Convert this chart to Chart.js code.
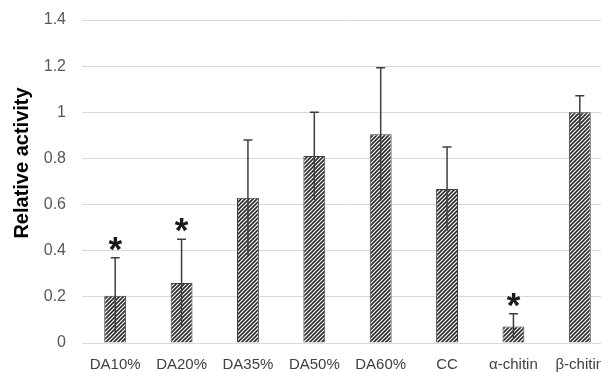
<!DOCTYPE html>
<html>
<head>
<meta charset="utf-8">
<script src="https://cdn.jsdelivr.net/npm/chart.js@4.4.0/dist/chart.umd.min.js"></script>
<style>
    html, body { margin: 0; padding: 0; background: #fff; overflow: hidden; }
    #wrap { width: 620px; height: 372px; }
</style>
</head>
<body>
<div id="wrap"><canvas id="activityChart" width="620" height="372"></canvas></div>
<script>
// chart data
const categories = ['DA10%', 'DA20%', 'DA35%', 'DA50%', 'DA60%', 'CC', 'α-chitin', 'β-chitin'];
const activity = [0.205, 0.26, 0.63, 0.81, 0.905, 0.668, 0.072, 1.0];
const errors = [0.165, 0.19, 0.25, 0.19, 0.288, 0.182, 0.055, 0.072];
const significant = [true, true, false, false, false, false, true, false];
const yTicks = [0, 0.2, 0.4, 0.6, 0.8, 1, 1.2, 1.4];

const axisFont = "'Liberation Sans', Arial, sans-serif";

// diagonal hatch fill like the Excel pattern
function makeHatch() {
    const tile = document.createElement('canvas');
    tile.width = 4;
    tile.height = 4;
    const t = tile.getContext('2d');
    t.fillStyle = '#ffffff';
    t.fillRect(0, 0, 4, 4);
    t.strokeStyle = '#2b2b2b';
    t.lineWidth = 1.6;
    t.beginPath();
    t.moveTo(-1, 5); t.lineTo(5, -1);
    t.moveTo(-1, 1); t.lineTo(1, -1);
    t.moveTo(3, 5); t.lineTo(5, 3);
    t.stroke();
    return document.getElementById('activityChart').getContext('2d').createPattern(tile, 'repeat');
}

// error bars, asterisks and the y title
const extras = {
    id: 'extras',
    afterDatasetsDraw(chart) {
        const ctx = chart.ctx;
        const meta = chart.getDatasetMeta(0);
        const y = chart.scales.y;
        ctx.save();
        meta.data.forEach((bar, i) => {
            const top = y.getPixelForValue(activity[i] + errors[i]);
            const low = y.getPixelForValue(activity[i] - errors[i]);
            ctx.strokeStyle = '#3f3f3f';
            ctx.lineWidth = 1.5;
            ctx.beginPath();
            ctx.moveTo(bar.x, low);
            ctx.lineTo(bar.x, top);
            ctx.moveTo(bar.x - 4.5, top);
            ctx.lineTo(bar.x + 4.5, top);
            ctx.stroke();

            if (significant[i]) {
                ctx.font = 'bold 35px ' + axisFont;
                ctx.fillStyle = '#1a1a1a';
                ctx.textAlign = 'center';
                ctx.textBaseline = 'alphabetic';
                const m = ctx.measureText('*');
                ctx.fillText('*', bar.x, top - 7 - m.actualBoundingBoxDescent);
            }
        });

        ctx.translate(22, 163);
        ctx.rotate(-Math.PI / 2);
        ctx.font = 'bold 20px ' + axisFont;
        ctx.fillStyle = '#000000';
        ctx.textAlign = 'center';
        ctx.textBaseline = 'middle';
        ctx.fillText('Relative activity', 0, 0);
        ctx.restore();
    }
};

new Chart(document.getElementById('activityChart'), {
    type: 'bar',
    data: {
        labels: categories,
        datasets: [{
            data: activity,
            backgroundColor: makeHatch(),
            borderColor: '#404040',
            borderWidth: 1,
            categoryPercentage: 1,
            barPercentage: 0.33
        }]
    },
    options: {
        responsive: false,
        animation: false,
        layout: {
            padding: { top: 20, right: 7, bottom: 0, left: 0 }
        },
        plugins: {
            legend: { display: false },
            tooltip: { enabled: false }
        },
        scales: {
            x: {
                grid: { display: false },
                border: { color: '#d9d9d9', width: 1 },
                ticks: {
                    color: '#404040',
                    font: { family: axisFont, size: 15 },
                    padding: 5,
                    maxRotation: 0,
                    autoSkip: false
                },
                afterFit(scale) {
                    scale.height = 29;
                    scale.paddingLeft = 0;
                    scale.paddingRight = 0;
                }
            },
            y: {
                min: 0,
                max: 1.4,
                afterBuildTicks(scale) {
                    scale.ticks = yTicks.map(v => ({ value: v }));
                },
                grid: { color: '#d9d9d9', lineWidth: 1, drawTicks: false },
                border: { display: false },
                ticks: {
                    color: '#595959',
                    font: { family: axisFont, size: 16 },
                    padding: 16,
                    callback: v => String(v)
                },
                afterFit(scale) {
                    scale.width = 82;
                    scale.paddingTop = 0;
                    scale.paddingBottom = 0;
                }
            }
        }
    },
    plugins: [extras]
});
</script>
</body>
</html>
